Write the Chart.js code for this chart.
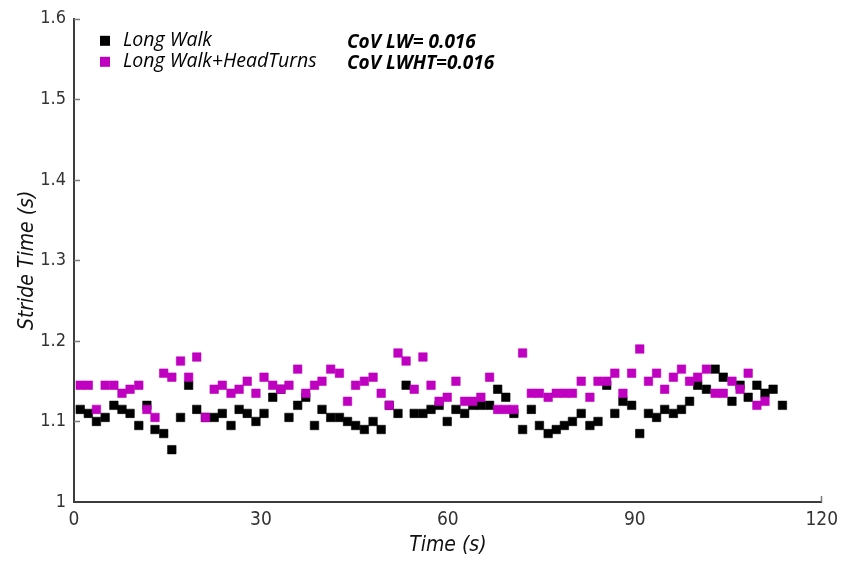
<!DOCTYPE html>
<html>
<head>
<meta charset="utf-8">
<script src="https://cdn.jsdelivr.net/npm/chart.js@4.4.0/dist/chart.umd.min.js"></script>
<style>
  html, body { margin: 0; padding: 0; background: #fff; }
</style>
</head>
<body>
<canvas id="stride" width="845" height="562"></canvas>
<script>
// stride times over the walk (s)
const timeLW = [1.0, 2.3, 3.6, 5.0, 6.4, 7.7, 9.0, 10.4, 11.7, 13.0,
  14.4, 15.7, 17.1, 18.4, 19.7, 21.1, 22.5, 23.8, 25.2, 26.5,
  27.8, 29.2, 30.5, 31.9, 33.2, 34.5, 35.9, 37.2, 38.6, 39.8,
  41.2, 42.6, 43.9, 45.2, 46.6, 48.0, 49.3, 50.6, 52.0, 53.3,
  54.6, 56.0, 57.3, 58.6, 59.9, 61.3, 62.7, 64.0, 65.3, 66.7,
  68.0, 69.3, 70.6, 72.0, 73.4, 74.7, 76.1, 77.4, 78.7, 80.0,
  81.4, 82.8, 84.1, 85.5, 86.8, 88.1, 89.5, 90.8, 92.2, 93.5,
  94.8, 96.2, 97.5, 98.8, 100.1, 101.5, 102.9, 104.2, 105.6, 106.9,
  108.2, 109.6, 110.9, 112.2, 113.7];
const strideLW = [1.115, 1.11, 1.10, 1.105, 1.12, 1.115, 1.11, 1.095, 1.12, 1.09,
  1.085, 1.065, 1.105, 1.145, 1.115, 1.105, 1.105, 1.11, 1.095, 1.115,
  1.11, 1.10, 1.11, 1.13, 1.14, 1.105, 1.12, 1.13, 1.095, 1.115,
  1.105, 1.105, 1.10, 1.095, 1.09, 1.10, 1.09, 1.12, 1.11, 1.145,
  1.11, 1.11, 1.115, 1.12, 1.10, 1.115, 1.11, 1.12, 1.12, 1.12,
  1.14, 1.13, 1.11, 1.09, 1.115, 1.095, 1.085, 1.09, 1.095, 1.10,
  1.11, 1.095, 1.10, 1.145, 1.11, 1.125, 1.12, 1.085, 1.11, 1.105,
  1.115, 1.11, 1.115, 1.125, 1.145, 1.14, 1.165, 1.155, 1.125, 1.145,
  1.13, 1.145, 1.135, 1.14, 1.12];

const timeLWHT = [1.0, 2.3, 3.6, 5.0, 6.4, 7.7, 9.0, 10.4, 11.7, 13.0,
  14.4, 15.7, 17.1, 18.4, 19.7, 21.1, 22.5, 23.8, 25.2, 26.5,
  27.8, 29.2, 30.5, 31.9, 33.2, 34.5, 35.9, 37.2, 38.6, 39.8,
  41.2, 42.6, 43.9, 45.2, 46.6, 48.0, 49.3, 50.6, 52.0, 53.3,
  54.6, 56.0, 57.3, 58.6, 59.9, 61.3, 62.7, 64.0, 65.3, 66.7,
  68.0, 69.3, 70.6, 72.0, 73.4, 74.7, 76.1, 77.4, 78.7, 80.0,
  81.4, 82.8, 84.1, 85.5, 86.8, 88.1, 89.5, 90.8, 92.2, 93.5,
  94.8, 96.2, 97.5, 98.8, 100.1, 101.5, 102.9, 104.2, 105.6, 106.9,
  108.2, 109.6, 110.9];
const strideLWHT = [1.145, 1.145, 1.115, 1.145, 1.145, 1.135, 1.14, 1.145, 1.115, 1.105,
  1.16, 1.155, 1.175, 1.155, 1.18, 1.105, 1.14, 1.145, 1.135, 1.14,
  1.15, 1.135, 1.155, 1.145, 1.14, 1.145, 1.165, 1.135, 1.145, 1.15,
  1.165, 1.16, 1.125, 1.145, 1.15, 1.155, 1.135, 1.12, 1.185, 1.175,
  1.14, 1.18, 1.145, 1.125, 1.13, 1.15, 1.125, 1.125, 1.13, 1.155,
  1.115, 1.115, 1.115, 1.185, 1.135, 1.135, 1.13, 1.135, 1.135, 1.135,
  1.15, 1.13, 1.15, 1.15, 1.16, 1.135, 1.16, 1.19, 1.15, 1.16,
  1.14, 1.155, 1.165, 1.15, 1.155, 1.165, 1.135, 1.135, 1.15, 1.14,
  1.16, 1.12, 1.125];

const seriesNames = ['Long Walk', 'Long Walk+HeadTurns'];
const covNotes = ['CoV LW= 0.016', 'CoV LWHT=0.016'];
const xTicks = [0, 30, 60, 90, 120];
const yTicks = [1, 1.1, 1.2, 1.3, 1.4, 1.5, 1.6];

const narrow = '"Liberation Sans Narrow", "DejaVu Sans Condensed", sans-serif';

function points(xs, ys) {
  return xs.map((x, i) => ({ x: x, y: ys[i] }));
}

// short tick marks pointing into the plot
const inwardTicks = {
  id: 'inwardTicks',
  afterDraw(chart) {
    const { ctx, chartArea, scales } = chart;
    ctx.save();
    ctx.strokeStyle = '#7a7a7a';
    ctx.lineWidth = 1.5;
    ctx.beginPath();
    yTicks.slice(1).forEach(v => {
      const py = Math.round(scales.y.getPixelForValue(v)) + 0.5;
      ctx.moveTo(chartArea.left, py);
      ctx.lineTo(chartArea.left + 6, py);
    });
    // only the far end of the time axis carries a mark
    const px = Math.round(scales.x.getPixelForValue(xTicks[xTicks.length - 1])) - 0.5;
    ctx.moveTo(px, chartArea.bottom);
    ctx.lineTo(px, chartArea.bottom - 6);
    ctx.stroke();
    ctx.restore();
  }
};

// legend and CoV notes in the upper left of the plot
const legendBox = {
  id: 'legendBox',
  afterDatasetsDraw(chart) {
    const { ctx, chartArea } = chart;
    ctx.save();
    ctx.textBaseline = 'middle';
    chart.data.datasets.forEach((ds, i) => {
      const cy = chartArea.top + 22 + i * 21;
      ctx.fillStyle = ds.backgroundColor;
      ctx.fillRect(chartArea.left + 26, cy - 5, 10, 10);
      ctx.fillStyle = '#000';
      ctx.font = 'italic 19.5px "Open Sans"';
      ctx.fillText(ds.label, chartArea.left + 49, cy);
      ctx.font = 'italic bold 19px "Open Sans"';
      ctx.fillText(covNotes[i], chartArea.left + 273, cy + 2);
    });
    ctx.restore();
  }
};

new Chart(document.getElementById('stride'), {
  type: 'scatter',
  data: {
    datasets: [
      {
        label: seriesNames[0],
        data: points(timeLW, strideLW),
        backgroundColor: '#000000',
        borderColor: '#000000',
        borderWidth: 0.6,
        pointStyle: 'rect',
        pointRadius: 6,
        order: 2
      },
      {
        label: seriesNames[1],
        data: points(timeLWHT, strideLWHT),
        backgroundColor: '#c000c0',
        borderColor: '#c000c0',
        borderWidth: 0.6,
        pointStyle: 'rect',
        pointRadius: 6,
        order: 1
      }
    ]
  },
  options: {
    responsive: false,
    animation: false,
    layout: { padding: { left: 0, right: 19, top: 16, bottom: 0 } },
    plugins: {
      legend: { display: false },
      tooltip: { enabled: false }
    },
    scales: {
      x: {
        type: 'linear',
        min: 0,
        max: 120,
        afterBuildTicks: s => { s.ticks = xTicks.map(v => ({ value: v })); },
        afterFit: s => { s.height = 60; },
        grid: { display: false, drawTicks: false },
        border: { display: true, color: '#3c3c3c', width: 2 },
        ticks: {
          padding: 7,
          maxRotation: 0,
          color: '#333',
          font: { family: narrow, size: 19 }
        },
        title: {
          display: true,
          text: 'Time (s)',
          color: '#111',
          font: { family: narrow, size: 21, style: 'italic' },
          padding: { top: 0, bottom: 4 }
        }
      },
      y: {
        min: 1,
        max: 1.6,
        afterBuildTicks: s => { s.ticks = yTicks.map(v => ({ value: v })); },
        afterFit: s => { s.width = 74; },
        grid: { display: false, drawTicks: false },
        border: { display: true, color: '#3c3c3c', width: 2 },
        ticks: {
          padding: 8,
          color: '#333',
          font: { family: narrow, size: 18 },
          callback: v => String(v)
        },
        title: {
          display: true,
          text: 'Stride Time (s)',
          color: '#111',
          font: { family: narrow, size: 21, style: 'italic' },
          padding: { top: 15, bottom: 0 }
        }
      }
    }
  },
  plugins: [inwardTicks, legendBox]
});
</script>
</body>
</html>
